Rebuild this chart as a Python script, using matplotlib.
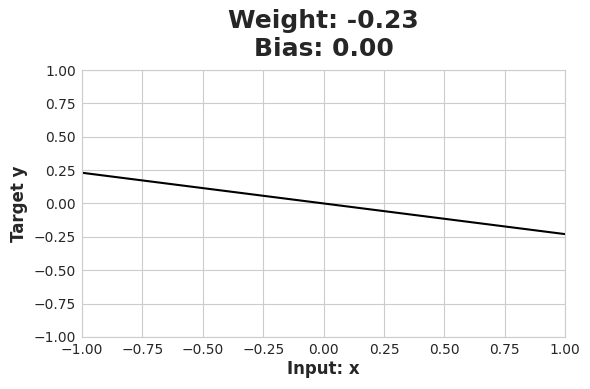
import matplotlib.pyplot as plt
import seaborn as sns

sns.set_style("whitegrid")

weight = -0.23
bias = 0.00
x_vals = [-1.0, 1.0]
y_vals = [0.23, -0.23]
ticks = [-1.0, -0.75, -0.5, -0.25, 0.0, 0.25, 0.5, 0.75, 1.0]

fig, ax = plt.subplots(figsize=(5.9, 3.89), dpi=100)
ax.plot(x_vals, y_vals, color="black", linewidth=1.5)

ax.set_xlim(-1, 1)
ax.set_ylim(-1, 1)
ax.set_xticks(ticks)
ax.set_yticks(ticks)
ax.tick_params(labelsize=10, pad=1)
ax.set_xlabel("Input: x", fontsize=12, fontweight="bold", labelpad=2)
ax.set_ylabel("Target y", fontsize=12, fontweight="bold", labelpad=4)
ax.set_title(f"Weight: {weight:.2f}\nBias: {bias:.2f}", fontsize=18,
             fontweight="bold", pad=10)

fig.subplots_adjust(left=0.139, right=0.958, top=0.82, bottom=0.134)
fig.savefig("out.png")
